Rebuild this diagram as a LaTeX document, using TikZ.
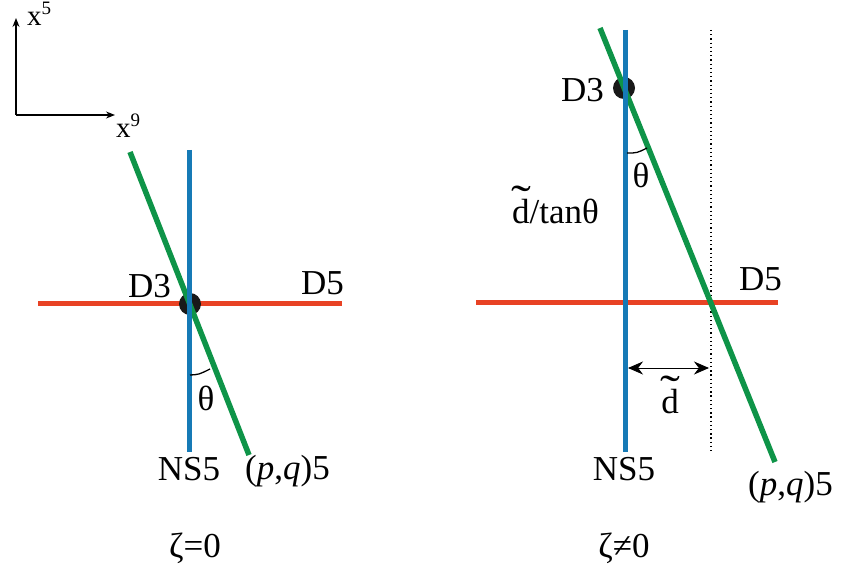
\documentclass[tikz,border=0pt]{standalone}
\usepackage{fontspec}
\setmainfont{Liberation Serif}
\usetikzlibrary{arrows.meta}
\definecolor{dred}{RGB}{232,66,36}
\definecolor{dblue}{RGB}{22,122,182}
\definecolor{dgreen}{RGB}{14,148,72}
\newcommand\dtil{\ooalign{d\cr\hidewidth\raisebox{0.22em}{\scalebox{1.7}[1.25]{\char"02DC}}\hidewidth\cr}}
\newcommand\axsup[1]{\raisebox{0.4em}{\fontsize{19}{22}\selectfont #1}}
\begin{document}
\begin{tikzpicture}[x=1pt,y=-1pt,
  lbl/.style={font=\fontsize{35}{40}\selectfont, inner sep=0},
  axlbl/.style={font=\fontsize{29}{34}\selectfont, inner sep=0},
  redline/.style={draw=dred, line width=5pt},
  blueline/.style={draw=dblue, line width=5pt},
  greenline/.style={draw=dgreen, line width=5.5pt},
  dotnode/.style={circle, fill=black!90, minimum size=22pt, inner sep=0},
  anglearc/.style={draw=black, line width=1.3pt},
  axis/.style={draw=black, line width=1.3pt, -{Stealth[length=9pt,width=7pt]}},
  dimarrow/.style={draw=black, line width=0.9pt, {Stealth[length=15pt,width=13pt]}-{Stealth[length=15pt,width=13pt]}},
  dotted line/.style={draw=black, line width=1.3pt, dash pattern=on 1.3pt off 2.9pt}]
\useasboundingbox (0,0) rectangle (841,575);

% axes
\coordinate (o) at (16,115);
\coordinate (ax5) at (16,18);
\coordinate (ax9) at (115,115);
\draw[axis] (o) -- (ax5);
\draw[axis] (o) -- (ax9);
\node[axlbl, anchor=base west] (x5) at (27,26) {x\axsup{5}};
\node[axlbl, anchor=base west] (x9) at (116,138) {x\axsup{9}};

% ---------------- left diagram ----------------
\coordinate (rl1) at (38,303);
\coordinate (rl2) at (342,303);
\coordinate (bl1) at (189,150);
\coordinate (bl2) at (189,452);
\coordinate (gl1) at (130,152);
\coordinate (gl2) at (249,455);
\draw[redline] (rl1) -- (rl2);
\node[dotnode] (dotL) at (190,304) {};
\draw[greenline] (gl1) -- (gl2);
\draw[blueline] (bl1) -- (bl2);
\coordinate (thL1) at (190,375);
\coordinate (thL2) at (210,369);
\draw[anglearc] (thL1) .. controls (199,374.5) .. (thL2);

\node[lbl, anchor=base east] (D3L) at (171,297) {D3};
\node[lbl, anchor=base west] (D5L) at (301,294) {D5};
\node[lbl, anchor=base] (thL) at (206,410) {θ};
\node[lbl, anchor=base] (NS5L) at (189,480) {NS5};
\node[lbl, anchor=base west] (pqL) at (245,479) {(\textit{p},\textit{q})5};
\node[lbl, anchor=base] (zL) at (195,557) {ζ=0};

% ---------------- right diagram ----------------
\coordinate (rr1) at (476,302);
\coordinate (rr2) at (778,302);
\coordinate (br1) at (625,30);
\coordinate (br2) at (625,452);
\coordinate (gr1) at (600,28);
\coordinate (gr2) at (775,462);
\coordinate (dt1) at (711,30);
\coordinate (dt2) at (711,452);
\draw[dotted line] (dt1) -- (dt2);
\draw[redline] (rr1) -- (rr2);
\node[dotnode] (dotR) at (624,88) {};
\draw[greenline] (gr1) -- (gr2);
\draw[blueline] (br1) -- (br2);
\coordinate (thR1) at (627,153);
\coordinate (thR2) at (647,148);
\draw[anglearc] (thR1) .. controls (637,153) .. (thR2);

\coordinate (da1) at (628,368);
\coordinate (da2) at (709,368);
\draw[dimarrow] (da1) -- (da2);

\node[lbl, anchor=base east] (D3R) at (604,102) {D3};
\node[lbl, anchor=base] (thR) at (641,187) {θ};
\node[lbl, anchor=base west] (dtan) at (512,223) {\dtil/tanθ};
\node[lbl, anchor=base west] (D5R) at (739,290) {D5};
\node[lbl, anchor=base] (dR) at (670,413) {\dtil};
\node[lbl, anchor=base] (NS5R) at (624,480) {NS5};
\node[lbl, anchor=base west] (pqR) at (748,495) {(\textit{p},\textit{q})5};
\node[lbl, anchor=base] (zR) at (624,557) {ζ≠0};
\end{tikzpicture}
\end{document}
